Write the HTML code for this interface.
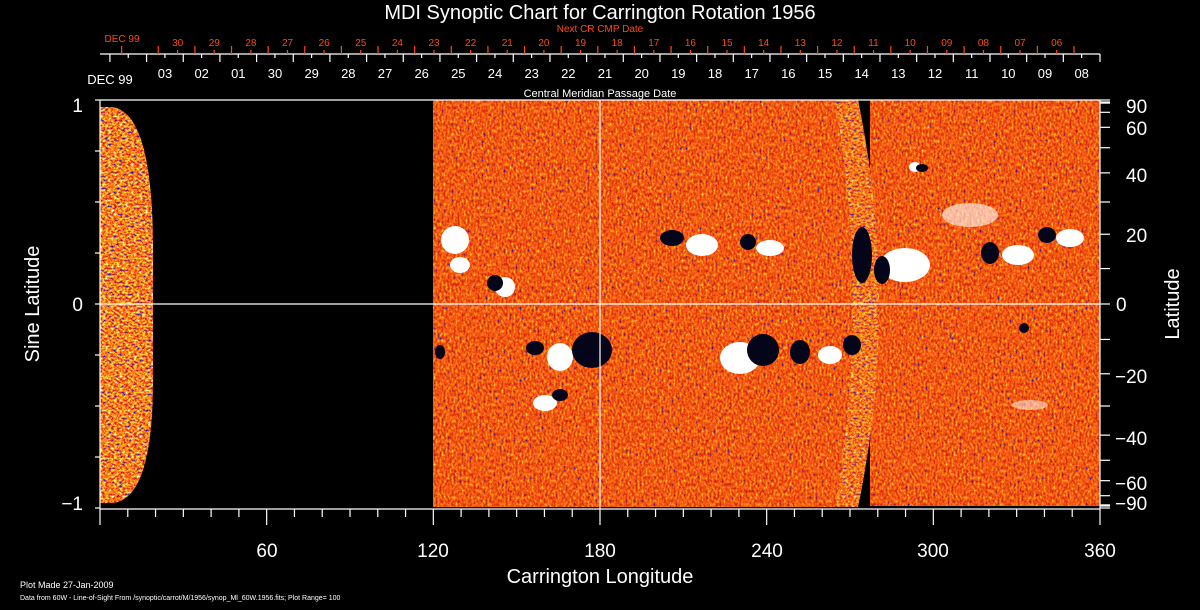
<!DOCTYPE html>
<html><head><meta charset="utf-8"><style>
html,body{margin:0;padding:0;background:#000;}
svg{display:block}
text{font-family:"Liberation Sans",sans-serif;}
</style></head><body>
<svg id="s" width="1200" height="610" viewBox="0 0 1200 610" xmlns="http://www.w3.org/2000/svg">
<defs>
<filter id="nz" x="0" y="0" width="1200" height="610" filterUnits="userSpaceOnUse" color-interpolation-filters="sRGB">
<feTurbulence type="fractalNoise" baseFrequency="0.5 0.3" numOctaves="2" seed="3"/>
<feColorMatrix type="matrix" values="1 0 0 0 0 1 0 0 0 0 1 0 0 0 0 0 0 0 0 1"/>
<feComponentTransfer>
<feFuncR type="discrete" tableValues="0.1 0.15 0.85 0.9 0.95 1 1 1 1"/>
<feFuncG type="discrete" tableValues="0.1 0.1 0.15 0.25 0.35 0.45 0.6 0.85 1"/>
<feFuncB type="discrete" tableValues="0.6 0.7 0.05 0.05 0.08 0.1 0.1 0.2 0.6"/>
<feFuncA type="table" tableValues="1 1"/>
</feComponentTransfer>
<feComposite operator="in" in2="SourceGraphic"/>
</filter>
<filter id="nz2" x="0" y="0" width="1200" height="610" filterUnits="userSpaceOnUse" color-interpolation-filters="sRGB">
<feTurbulence type="fractalNoise" baseFrequency="0.35 0.5" numOctaves="2" seed="7"/>
<feColorMatrix type="matrix" values="1 0 0 0 0 1 0 0 0 0 1 0 0 0 0 0 0 0 0 1"/>
<feComponentTransfer>
<feFuncR type="discrete" tableValues="0.1 0.1 0.9 1 1 1 1"/>
<feFuncG type="discrete" tableValues="0.1 0.1 0.2 0.5 0.8 1 1"/>
<feFuncB type="discrete" tableValues="0.8 0.8 0.1 0.1 0.2 0.8 1"/>
<feFuncA type="table" tableValues="1 1"/>
</feComponentTransfer>
<feComposite operator="in" in2="SourceGraphic"/>
</filter>
<clipPath id="cL"><path d="M100,107 L112,107 Q153,112 153,250 L153,380 Q153,500 112,503 L100,503 Z"/></clipPath>
<clipPath id="cM"><path d="M433,100 L858,100 Q900,304 858,507 L433,507 Z"/></clipPath>
<clipPath id="cB"><path d="M835,100 L858,100 Q900,304 858,507 L835,507 Q870,304 835,100 Z"/></clipPath>
</defs>
<rect width="1200" height="610" fill="#000"/>
<rect x="870" y="100" width="230" height="406" fill="#fff" filter="url(#nz)"/>
<g clip-path="url(#cM)"><rect x="433" y="100" width="470" height="407" fill="#fff" filter="url(#nz)"/></g>
<g clip-path="url(#cB)" opacity="0.75"><rect x="820" y="100" width="90" height="407" fill="#fff" filter="url(#nz2)"/></g>
<g clip-path="url(#cL)"><rect x="100" y="100" width="60" height="410" fill="#fff" filter="url(#nz2)"/></g>
<g fill="#fff">
<ellipse cx="455" cy="240" rx="14" ry="14"/><ellipse cx="460" cy="265" rx="10" ry="8"/>
<ellipse cx="505" cy="287" rx="10" ry="10"/>
<ellipse cx="702" cy="245" rx="16" ry="11"/>
<ellipse cx="770" cy="248" rx="14" ry="8"/>
<ellipse cx="905" cy="265" rx="25" ry="17"/>
<ellipse cx="970" cy="215" rx="28" ry="12" opacity="0.6"/>
<ellipse cx="1018" cy="255" rx="16" ry="10"/>
<ellipse cx="1070" cy="238" rx="14" ry="9"/>
<ellipse cx="560" cy="357" rx="13" ry="14"/>
<ellipse cx="740" cy="358" rx="20" ry="16"/>
<ellipse cx="830" cy="355" rx="12" ry="9"/>
<ellipse cx="545" cy="403" rx="12" ry="8"/>
<ellipse cx="915" cy="167" rx="6" ry="5"/>
<ellipse cx="1030" cy="405" rx="18" ry="5" opacity="0.5"/>
</g>
<g fill="#05051a">
<ellipse cx="672" cy="238" rx="12" ry="8"/>
<ellipse cx="748" cy="242" rx="8" ry="8"/>
<ellipse cx="495" cy="283" rx="8" ry="8"/>
<ellipse cx="862" cy="255" rx="10" ry="28"/>
<ellipse cx="882" cy="270" rx="8" ry="14"/>
<ellipse cx="922" cy="168" rx="6" ry="4"/>
<ellipse cx="990" cy="253" rx="9" ry="11"/>
<ellipse cx="1047" cy="235" rx="9" ry="8"/>
<ellipse cx="535" cy="348" rx="9" ry="7"/>
<ellipse cx="592" cy="350" rx="20" ry="18"/>
<ellipse cx="763" cy="350" rx="16" ry="16"/>
<ellipse cx="800" cy="352" rx="10" ry="12"/>
<ellipse cx="852" cy="345" rx="9" ry="10"/>
<ellipse cx="560" cy="395" rx="8" ry="6"/>
<ellipse cx="1024" cy="328" rx="5" ry="5"/>
<ellipse cx="440" cy="352" rx="5" ry="7"/>
</g>
<g stroke="#fff" stroke-width="1.2" fill="none">
<line x1="100" y1="100" x2="1100" y2="100"/>
<line x1="100" y1="509" x2="1100" y2="509"/>
<line x1="100" y1="100" x2="100" y2="509"/>
<line x1="1100" y1="100" x2="1100" y2="509"/>
<line x1="100" y1="304" x2="1100" y2="304"/>
<line x1="600" y1="100" x2="600" y2="509"/>
<line x1="100" y1="54" x2="1100" y2="54"/>
</g>
<g id="ticks" stroke="#fff" stroke-width="1.2"></g>
<g id="rticks" stroke="#ff4a10" stroke-width="1.2"></g>
<g fill="#fff">
<text x="600" y="19" font-size="20" text-anchor="middle">MDI Synoptic Chart for Carrington Rotation 1956</text>
<text x="600" y="97" font-size="11" text-anchor="middle">Central Meridian Passage Date</text>
<text x="600" y="583" font-size="20" text-anchor="middle">Carrington Longitude</text>
<text transform="translate(39,304) rotate(-90)" font-size="20" text-anchor="middle">Sine Latitude</text>
<text transform="translate(1179,304) rotate(-90)" font-size="20" text-anchor="middle">Latitude</text>
<g font-size="19" text-anchor="end">
<text x="83" y="112">1</text><text x="83" y="311">0</text><text x="83" y="510">−1</text>
</g>
<g font-size="19" text-anchor="middle">
<text x="267" y="557">60</text><text x="433" y="557">120</text><text x="600" y="557">180</text>
<text x="767" y="557">240</text><text x="933" y="557">300</text><text x="1100" y="557">360</text>
</g>
<g font-size="19">
<text x="1126" y="113">90</text><text x="1126" y="135">60</text><text x="1126" y="182">40</text>
<text x="1126" y="242">20</text><text x="1116" y="311">0</text>
<text x="1115" y="383">−20</text><text x="1115" y="445">−40</text><text x="1115" y="490">−60</text><text x="1115" y="510">−90</text>
</g>
<g font-size="9">
<text x="20" y="588">Plot Made 27-Jan-2009</text>
<text x="20" y="600" font-size="7">Data from 60W - Line-of-Sight From /synoptic/carrot/M/1956/synop_Ml_60W.1956.fits; Plot Range=  100</text>
</g>
<g font-size="13" text-anchor="middle">
<text x="110" y="84">DEC 99</text>
<text x="165" y="78">03</text><text x="201.7" y="78">02</text><text x="238.3" y="78">01</text><text x="275" y="78">30</text>
<text x="311.7" y="78">29</text><text x="348.3" y="78">28</text><text x="385" y="78">27</text><text x="421.7" y="78">26</text>
<text x="458.3" y="78">25</text><text x="495" y="78">24</text><text x="531.7" y="78">23</text><text x="568.3" y="78">22</text>
<text x="605" y="78">21</text><text x="641.7" y="78">20</text><text x="678.3" y="78">19</text><text x="715" y="78">18</text>
<text x="751.7" y="78">17</text><text x="788.3" y="78">16</text><text x="825" y="78">15</text><text x="861.7" y="78">14</text>
<text x="898.3" y="78">13</text><text x="935" y="78">12</text><text x="971.7" y="78">11</text><text x="1008.3" y="78">10</text>
<text x="1045" y="78">09</text><text x="1081.7" y="78">08</text>
</g>
</g>
<g fill="#ff4a10" font-size="10" text-anchor="middle">
<text x="600" y="32">Next CR CMP Date</text>
<text x="122" y="42">DEC 99</text>
<text x="177.7" y="46">30</text><text x="214.3" y="46">29</text><text x="250.9" y="46">28</text><text x="287.5" y="46">27</text>
<text x="324.2" y="46">26</text><text x="360.8" y="46">25</text><text x="397.4" y="46">24</text><text x="434" y="46">23</text>
<text x="470.7" y="46">22</text><text x="507.3" y="46">21</text><text x="543.9" y="46">20</text><text x="580.5" y="46">19</text>
<text x="617.2" y="46">18</text><text x="653.8" y="46">17</text><text x="690.4" y="46">16</text><text x="727" y="46">15</text>
<text x="763.7" y="46">14</text><text x="800.3" y="46">13</text><text x="836.9" y="46">12</text><text x="873.5" y="46">11</text>
<text x="910.2" y="46">10</text><text x="946.8" y="46">09</text><text x="983.4" y="46">08</text><text x="1020" y="46">07</text>
<text x="1056.7" y="46">06</text>
</g>
</svg>
<script>
var ns="http://www.w3.org/2000/svg",t=document.getElementById("ticks"),r=document.getElementById("rticks");
function L(g,a,b,c,d){var l=document.createElementNS(ns,"line");l.setAttribute("x1",a);l.setAttribute("y1",b);l.setAttribute("x2",c);l.setAttribute("y2",d);g.appendChild(l);}
for(var k=0;k<=36;k++){var x=100+k*1000/36;L(t,x,509,x,(k%6==0)?525:517);}
for(var k=0;k<=27;k++){var x=1100-k*36.67;L(t,x,54,x,62);if(k<27)L(t,x-18.33,54,x-18.33,58);}
for(var k=0;k<=26;k++){var x=1074-k*36.63;L(r,x,46,x,54);if(k<25)L(r,x-17.3,50,x-17.3,54);}
for(var a=-90;a<=90;a+=10){var y=304-204*Math.sin(a*Math.PI/180);L(t,1100,y,1110,y);}
L(t,1100,102,1110,102);L(t,1100,506,1110,506);
for(var k=-4;k<=4;k++){var y=304+51*k;L(t,95,y,100,y);}
</script>
</body></html>
